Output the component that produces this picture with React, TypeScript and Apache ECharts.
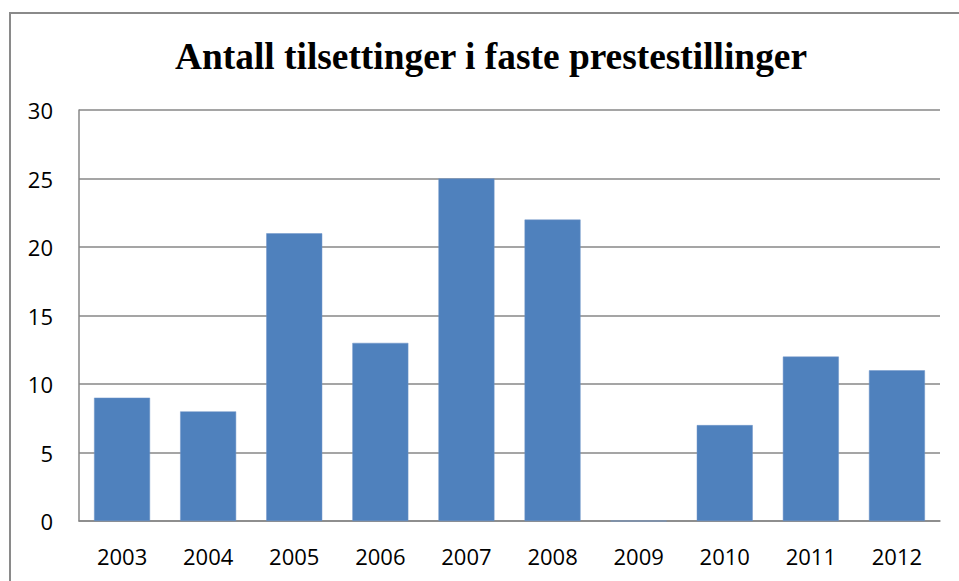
import React, { useEffect, useRef } from "react";
import * as echarts from "echarts";

const years = ["2003", "2004", "2005", "2006", "2007", "2008", "2009", "2010", "2011", "2012"];
const values = [9, 8, 21, 13, 25, 22, 0, 7, 12, 11];
const titleText = "Antall tilsettinger i faste prestestillinger";

export default function App() {
  const ref = useRef<HTMLDivElement>(null);
  useEffect(() => {
    const chart = echarts.init(ref.current!, null, { renderer: "svg" });
    chart.setOption({
      animation: false,
      backgroundColor: "#ffffff",
      title: {
        text: titleText,
        left: 486,
        textAlign: "center",
        top: 33,
        textStyle: {
          fontFamily: "Liberation Serif",
          fontWeight: "bold",
          fontSize: 37.4,
          color: "#000000",
        },
      },
      graphic: [
        {
          type: "rect",
          shape: { x: 10, y: 13, width: 980, height: 620 },
          style: { fill: "none", stroke: "#8a8a8a", lineWidth: 2 },
          silent: true,
          z: 10,
        },
      ],
      grid: { left: 79, right: 19, top: 110, bottom: 60, containLabel: false },
      xAxis: {
        type: "category",
        data: years,
        axisLine: { show: true, lineStyle: { color: "#878787", width: 1.5 } },
        axisTick: { show: false },
        axisLabel: {
          margin: 24,
          fontFamily: "Open Sans",
          fontSize: 22,
          color: "#000000",
        },
      },
      yAxis: {
        type: "value",
        min: 0,
        max: 30,
        interval: 5,
        axisLine: { show: true, lineStyle: { color: "#878787", width: 1.5 } },
        axisTick: { show: false },
        splitLine: { show: true, lineStyle: { color: "#878787", width: 1.5 } },
        axisLabel: {
          margin: 26,
          fontFamily: "Open Sans",
          fontSize: 22,
          color: "#000000",
        },
      },
      series: [
        {
          type: "bar",
          data: values,
          barCategoryGap: "35%",
          itemStyle: { color: "#4F81BD", borderColor: "#6f95c8", borderWidth: 0.5 },
        },
      ],
    });
    return () => chart.dispose();
  }, []);
  return (
    <div
      ref={ref}
      style={{ position: "fixed", left: 0, top: 0, width: 959, height: 581 }}
    />
  );
}
